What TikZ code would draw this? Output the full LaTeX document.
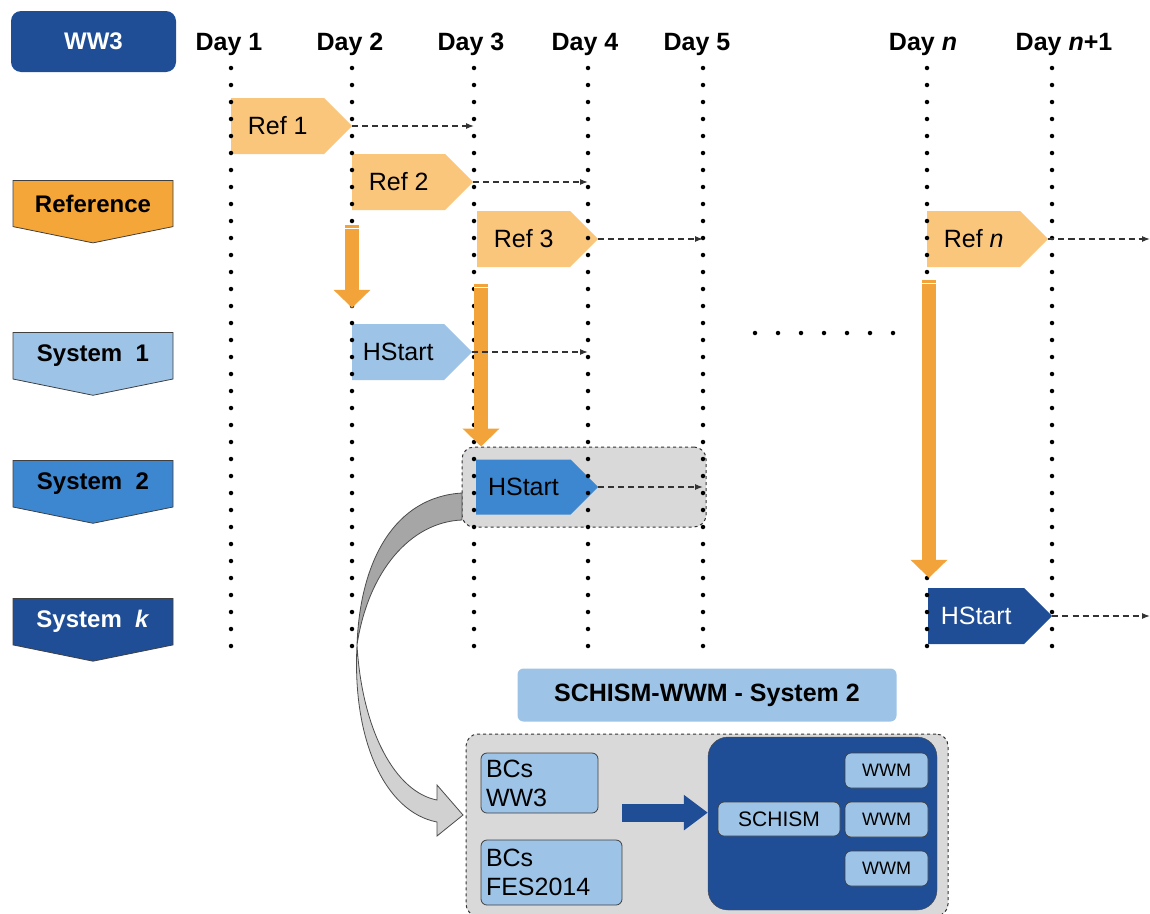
\documentclass[tikz,border=0pt]{standalone}
\usepackage{fontspec}
\setmainfont{Liberation Sans}
\usetikzlibrary{shapes.symbols,arrows.meta,positioning}

\definecolor{navy}{HTML}{1F4E96}
\definecolor{midblue}{HTML}{3D87D0}
\definecolor{paleblue}{HTML}{9DC3E6}
\definecolor{refdark}{HTML}{F4A638}
\definecolor{reflight}{HTML}{F9C67C}
\definecolor{arrorange}{HTML}{F2A43A}
\definecolor{boxgray}{HTML}{D9D9D9}

\begin{document}
\begin{tikzpicture}[x=1pt, y=-1pt,
	dayline/.style = {line width=4.5pt, line cap=round, dash pattern=on 0pt off 17pt},
	daylbl/.style = {font=\fontsize{25}{25}\selectfont\bfseries},
	rowlbl/.style = {signal, signal to=south, signal pointer angle=157, draw=black!75, line width=0.8pt, minimum width=160pt, minimum height=58pt, inner sep=0pt, anchor=north, font=\fontsize{24}{24}\selectfont\bfseries},
	runbox/.style = {signal, signal to=east, signal pointer angle=90, minimum height=56pt, inner sep=0pt, anchor=west, font=\fontsize{25}{25}\selectfont},
	refbox/.style = {runbox, fill=reflight, minimum width=121pt},
	graybox/.style = {draw=black!80, dashed, line width=1pt, fill=boxgray, rounded corners=12pt},
	dasharrow/.style = {-{Latex[length=8pt,width=6pt]}, line width=1.2pt, black!80, dash pattern=on 6pt off 4pt},
	orangearrow/.style = {-{Triangle[width=36pt,length=18pt]}, line width=14pt, arrorange},
	bluearrow/.style = {-{Triangle[width=34pt,length=24pt]}, line width=18pt, navy},
	inbox/.style = {draw=black!75, line width=0.8pt, fill=paleblue, rounded corners=6pt, inner sep=0pt},
	bcbox/.style = {inbox, inner xsep=5pt, align=left, font=\fontsize{25}{29}\selectfont}
]
\useasboundingbox (0,0) rectangle (1150,913);

% day grid
\coordinate (d1) at (231,68);
\coordinate (d2) at (352,68);
\coordinate (d3) at (474,68);
\coordinate (d4) at (588,68);
\coordinate (d5) at (703,68);
\coordinate (dn) at (927,68);
\coordinate (dm) at (1052,68);
\coordinate (edge) at (1150,68);
\node[daylbl] (l1) at (229,44) {Day 1};
\node[daylbl] (l2) at (350,44) {Day 2};
\node[daylbl] (l3) at (471,44) {Day 3};
\node[daylbl] (l4) at (585,44) {Day 4};
\node[daylbl] (l5) at (697,44) {Day 5};
\node[daylbl] (ln) at (923,44) {Day \textit{n}};
\node[daylbl] (lm) at (1064,44) {Day \textit{n}+1};

% row labels
\node[fill=navy, rounded corners=10pt, minimum width=165pt, minimum height=61pt, text=white, font=\fontsize{24}{24}\selectfont\bfseries] (ww3) at (93.5,41.5) {WW3};
\node[rowlbl, fill=refdark] (reference) at (93,180) {Reference};
\node[rowlbl, fill=paleblue] (sys1) at (93,332) {System~~1};
\node[rowlbl, fill=midblue] (sys2) at (93,460) {System~~2};
\node[rowlbl, fill=navy, text=white] (sysk) at (93,598) {System~~\textit{k}};

% gray frame of system 2
\node[graybox, minimum width=244pt, minimum height=80pt] (s2box) at (584,487) {};

% runs
\node[refbox] (ref1) at (231,126) {Ref 1};
\node[refbox] (ref2) at (352,182) {Ref 2};
\node[refbox] (ref3) at (477,239) {Ref 3};
\node[refbox] (refn) at (927,239) {Ref \textit{n}};
\node[runbox, fill=paleblue, minimum width=120pt] (hs1) at (352,352) {HStart};
\node[runbox, fill=midblue, minimum width=122pt, minimum height=55pt] (hs2) at (476,487) {HStart};
\node[runbox, fill=navy, text=white, minimum width=124pt] (hsk) at (928,616) {HStart};

\draw[dayline] (d1) -- ++(0,582);
\draw[dayline] (d2) -- ++(0,582);
\draw[dayline] (d3) -- ++(0,582);
\draw[dayline] (d4) -- ++(0,582);
\draw[dayline] (d5) -- ++(0,582);
\draw[dayline] (dn) -- ++(0,582);
\draw[dayline] (dm) -- ++(0,582);
\draw[line width=4.5pt, line cap=round, dash pattern=on 0pt off 23pt] (755,333) -- (895,333);

% hot starts
\draw[orangearrow] ([yshift=-15pt]ref2.south west) -- ([yshift=16pt]hs1.north west);
\draw[orangearrow] ([xshift=4pt,yshift=-17pt]ref3.south west) -- ([xshift=4pt]ref3.south west |- s2box.north);
\draw[orangearrow] ([xshift=2pt,yshift=-13pt]refn.south west) -- ([xshift=2pt,yshift=10pt]refn.south west |- hsk.north);
\draw[white, line width=1pt] ([xshift=-7pt,yshift=-18pt]ref2.south west) -- ++(14,0);
\draw[white, line width=1pt] ([xshift=-3pt,yshift=-20pt]ref3.south west) -- ++(14,0);
\draw[white, line width=1pt] ([xshift=-5pt,yshift=-16pt]refn.south west) -- ++(14,0);

\draw[dasharrow] (ref1.east) -- (ref1.east -| d3);
\draw[dasharrow] (ref2.east) -- (ref2.east -| d4);
\draw[dasharrow] (ref3.east) -- (ref3.east -| d5);
\draw[dasharrow] (refn.east) -- (refn.east -| edge);
\draw[dasharrow] (hs1.east) -- (hs1.east -| d4);
\draw[dasharrow] (hs2.east) -- (hs2.east -| d5);
\draw[dasharrow] (hsk.east) -- (hsk.east -| edge);

% SCHISM-WWM detail
\node[fill=paleblue, rounded corners=6pt, minimum width=379pt, minimum height=53pt, font=\fontsize{25}{25}\selectfont\bfseries] (schtitle) at (707,695) {SCHISM-WWM - System 2};
\node[graybox, minimum width=482pt, minimum height=182pt] (bigbox) at (707,825) {};
\node[bcbox, text width=107pt, minimum height=60pt] (bcsww3) at (539.5,783) {BCs\\WW3};
\node[bcbox, text width=131pt, minimum height=65pt] (bcsfes) at (551.5,872.5) {BCs\\FES2014};
\node[fill=navy, draw=black!70, rounded corners=20pt, minimum width=229pt, minimum height=173pt] (schbox) at (822.5,823.5) {};
\node[inbox, minimum width=122pt, minimum height=34pt, font=\fontsize{21}{21}\selectfont] (schism) at (779,819) {SCHISM};
\node[inbox, minimum width=83pt, minimum height=35pt, font=\fontsize{18}{18}\selectfont] (wwm1) at (886.5,770.5) {WWM};
\node[inbox, minimum width=83pt, minimum height=35pt, font=\fontsize{18}{18}\selectfont] (wwm2) at (886.5,819.5) {WWM};
\node[inbox, minimum width=83pt, minimum height=35pt, font=\fontsize{18}{18}\selectfont] (wwm3) at (886.5,868.5) {WWM};
\draw[bluearrow] ([yshift=27pt]bcsfes.north east) -- ([yshift=27pt]bcsfes.north east -| schbox.west);

% twisted arrow from system 2 to its detail
\draw[draw=black!70, line width=0.8pt, fill=black!35] (462,493) .. controls (395,497) and (360,560) .. (357,645) .. controls (368,572) and (410,522) .. (462,520) -- cycle;
\draw[draw=black!70, line width=0.8pt, fill=black!18] (357,645) .. controls (352,740) and (385,812) .. (437,822) -- (437,836) -- (463,815) -- (437,785) -- (437,800) .. controls (395,792) and (362,730) .. (357,645) -- cycle;
\end{tikzpicture}
\end{document}
